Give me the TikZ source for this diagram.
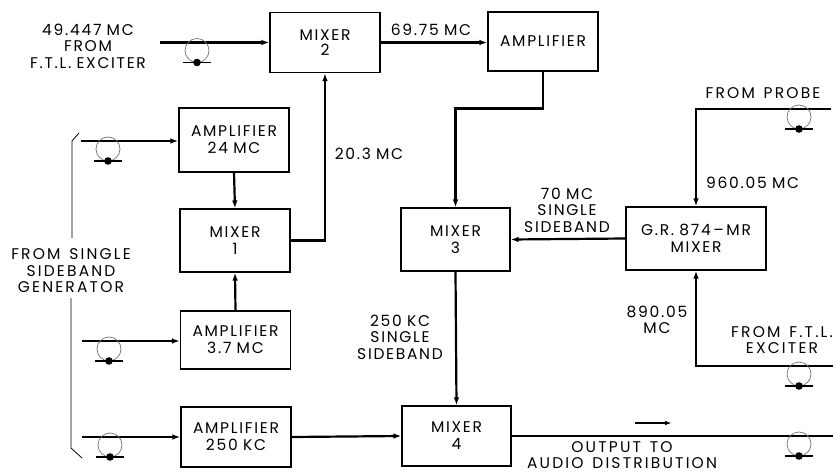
\documentclass[tikz,border=0pt]{standalone}
\usepackage{fontspec}
\setmainfont{Poppins}[LetterSpace=11, WordSpace=0.9]
\newfontfamily\widefont{Poppins}[LetterSpace=14, WordSpace=1.4]
\usetikzlibrary{arrows.meta}
\tikzset{
  blk/.style={draw, line width=1.1pt, minimum width=110pt, minimum height=60pt, align=center, font=\fontsize{15.5}{17}\selectfont, inner sep=0pt},
  lbl/.style={align=center, font=\fontsize{15.5}{16.5}\selectfont, inner sep=0pt},
  wlbl/.style={align=center, font=\widefont\fontsize{15.5}{16.5}\selectfont, inner sep=0pt},
  wire/.style={line width=2.2pt},
  arr/.style={wire, -{Latex[length=8pt,width=5.5pt]}},
  coax/.pic={
    \draw[line width=0.7pt, black!55] (0,8) circle (12);
    \fill (0,20) circle (3.8);
    \draw[line width=1.4pt] (-14,20) -- (14,20);
  }
}
\begin{document}
\begin{tikzpicture}[x=1pt,y=-1pt]
\useasboundingbox (0,0) rectangle (838,473);
% blocks
\node[blk] (mix2) at (325,42.5) {\raisebox{-8pt}{\shortstack{MIXER\\[1pt]2}}};
\node[blk, minimum height=59pt] (amp) at (543,41.5) {AMPLIFIER};
\node[blk, minimum height=64pt] (amp24) at (234,140) {AMPLIFIER\\24 MC};
\node[blk, minimum height=63pt] (mix1) at (235,240.5) {MIXER\\1};
\node[blk, minimum height=58pt] (amp37) at (235.5,340) {AMPLIFIER\\3.7 MC};
\node[blk] (amp250) at (236,437) {AMPLIFIER\\250 KC};
\node[blk, minimum width=109pt, minimum height=63pt] (mix3) at (455.5,239.5) {MIXER\\3};
\node[blk, minimum width=140pt, minimum height=63pt] (gr) at (696,238.5) {G.R. 874\,–\,MR\\MIXER};
\node[blk, minimum width=109pt] (mix4) at (456.5,436) {MIXER\\4};
% free ends
\coordinate (in1) at (160,42.5);
\coordinate (in24) at (81,141);
\coordinate (in37) at (82,341);
\coordinate (in250) at (82,437);
\coordinate (prb) at (831,109);
\coordinate (ftl) at (833,366);
\coordinate (out) at (833,436);
% connectors
\draw[arr] (in1) -- (mix2.west);
\draw[arr] (in24) -- (in24 -| amp24.west);
\draw[arr] (in37) -- (in37 -| amp37.west);
\draw[arr] (in250) -- (amp250.west);
\draw[arr] (amp24.south) -- (mix1.north);
\draw[arr] (amp37.north) -- (mix1.south);
\draw[arr] (mix1.east) -| (mix2.south);
\draw[arr] (mix2.east) -- (mix2.east -| amp.west);
\draw[arr] (amp.south) -- ++(0,37) -| (mix3.north);
\draw[arr] (gr.west) -- (mix3.east);
\draw[arr] (prb) -| (gr.north);
\draw[arr] (ftl) -| (gr.south);
\draw[arr] (mix3.south) -- (mix4.north);
\draw[arr] (amp250.east) -- (mix4.west);
\draw[wire] (mix4.east) -- (out);
\draw[line width=2pt, -{Latex[length=7pt,width=4.5pt]}] (635,423) -- (672,423);
% coax symbols
\pic at (197,42.5) {coax};
\pic at (108,141) {coax};
\pic at (109,341) {coax};
\pic at (110,437) {coax};
\pic at (799,109) {coax};
\pic at (799,366) {coax};
\pic at (799,436) {coax};
% bracket
\draw[line width=0.8pt] (79,133) -- (72,141) -- (72,238);
\draw[line width=0.8pt] (71,298) -- (71,448) -- (82,458);
% labels
\node[lbl] (l1) at (88,46) {49.447 MC\\FROM\\F.T.L. EXCITER};
\node[wlbl] (l2) at (71,271) {FROM SINGLE\\SIDEBAND\\GENERATOR};
\node[lbl] (l3) at (431,30) {69.75 MC};
\node[lbl] (l4) at (369,154) {20.3 MC};
\node[lbl] (l5) at (567,210) {70 MC\\SINGLE\\SIDEBAND};
\node[lbl] (l6) at (400,337) {250 KC\\SINGLE\\SIDEBAND};
\node[wlbl] (l7) at (763,93) {FROM PROBE};
\node[lbl, anchor=west] (l8) at (706,183) {960.05 MC};
\node[lbl] (l9) at (657,320) {890.05\\MC};
\node[wlbl] (l10) at (782,340) {FROM F.T.L.\\EXCITER};
\node[wlbl] (l11) at (622,455) {OUTPUT TO\\AUDIO DISTRIBUTION};
\end{tikzpicture}
\end{document}
